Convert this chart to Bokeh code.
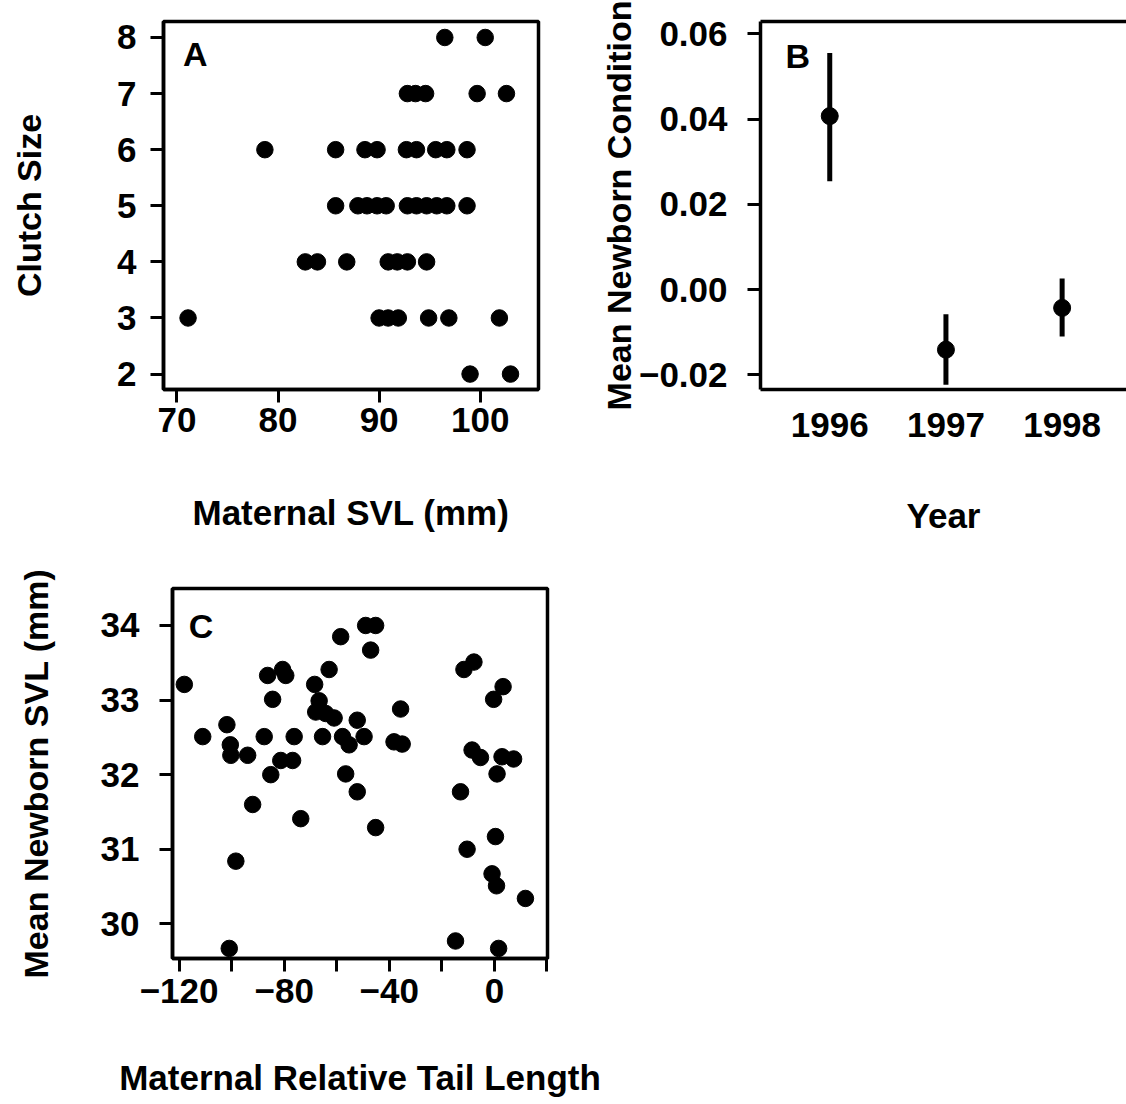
from bokeh.plotting import figure
from bokeh.layouts import column, row
from bokeh.models import Range1d, FixedTicker, LinearAxis, Label, CustomJSTickFormatter
from bokeh.embed import file_html
from bokeh.resources import INLINE

# Panel A: clutch size against maternal snout-vent length
svl_mm = [96.5, 100.5,
          92.8, 93.6, 94.6, 99.7, 102.6,
          78.7, 85.7, 88.6, 89.8, 92.7, 93.7, 95.6, 96.7, 98.7,
          85.7, 87.9, 88.8, 89.8, 90.7, 92.8, 93.7, 94.7, 95.7, 96.7, 98.7,
          82.7, 83.9, 86.8, 90.9, 91.8, 92.8, 94.7,
          71.1, 90.0, 90.9, 91.9, 94.9, 96.9, 101.9,
          99.0, 103.0]
clutch_size = [8, 8,
               7, 7, 7, 7, 7,
               6, 6, 6, 6, 6, 6, 6, 6, 6,
               5, 5, 5, 5, 5, 5, 5, 5, 5, 5, 5,
               4, 4, 4, 4, 4, 4, 4,
               3, 3, 3, 3, 3, 3, 3,
               2, 2]

# Panel B: mean newborn condition by year, with error bars
years = [1996, 1997, 1998]
cond_mean = [0.0407, -0.0141, -0.0043]
cond_low = [0.0254, -0.0223, -0.0110]
cond_high = [0.0555, -0.0058, 0.0026]

# Panel C: mean newborn SVL against maternal relative tail length
tail_rel = [-118.0, -111.0, -101.8, -100.5, -100.3, -93.9, -98.4, -100.9, -92.0,
            -86.3, -84.4, -87.6, -85.1, -80.6, -79.4, -81.3, -76.8, -76.2, -73.7,
            -68.4, -66.7, -68.0, -65.4, -62.9, -64.2, -61.0, -58.5, -57.8, -55.3,
            -56.6, -52.2, -49.6, -52.2, -49.0, -45.2, -47.1, -45.2, -35.7, -38.2,
            -35.1, -11.6, -7.8, -12.9, -10.4, -14.8, -8.5, -5.3, -0.3, 3.3, 1.0,
            2.9, 7.3, 0.4, -0.9, 0.8, 11.8, 1.6]
newborn_svl = [33.21, 32.51, 32.67, 32.40, 32.26, 32.26, 30.84, 29.67, 31.60,
               33.33, 33.01, 32.51, 32.00, 33.41, 33.33, 32.19, 32.19, 32.51, 31.41,
               33.21, 32.99, 32.84, 32.51, 33.41, 32.82, 32.76, 33.85, 32.51, 32.40,
               32.01, 32.73, 32.51, 31.77, 34.00, 34.00, 33.67, 31.29, 32.88, 32.44,
               32.41, 33.41, 33.51, 31.77, 31.00, 29.77, 32.33, 32.23, 33.01, 33.18, 32.01,
               32.24, 32.21, 31.17, 30.67, 30.51, 30.34, 29.67]

FONT = "Liberation Sans"
TICK_SIZE = "35px"
XTITLE_SIZE = "35px"
YTITLE_SIZE = "34px"
LINE_W = 3.5


def style_axis(ax, label_standoff, title_standoff, title_size):
    ax.axis_line_width = LINE_W
    ax.axis_line_color = "black"
    ax.major_tick_line_width = 3
    ax.major_tick_out = 13
    ax.major_tick_in = 0
    ax.minor_tick_line_color = None
    ax.major_label_text_font = FONT
    ax.major_label_text_font_style = "bold"
    ax.major_label_text_font_size = TICK_SIZE
    ax.major_label_text_color = "black"
    ax.major_label_standoff = label_standoff
    ax.axis_label_text_font = FONT
    ax.axis_label_text_font_style = "bold"
    ax.axis_label_text_font_size = title_size
    ax.axis_label_text_color = "black"
    ax.axis_label_standoff = title_standoff


def base_figure(**kw):
    p = figure(output_backend="svg", toolbar_location=None, **kw)
    p.xgrid.visible = False
    p.ygrid.visible = False
    p.outline_line_color = "black"
    p.outline_line_width = LINE_W
    p.background_fill_color = "white"
    p.border_fill_color = "white"
    return p


def panel_letter(p, x, y, text):
    p.add_layout(Label(x=x, y=y, y_offset=14, text=text, text_font=FONT,
                       text_font_style="bold", text_font_size="34px",
                       text_align="left", text_baseline="alphabetic",
                       text_color="black"))


minus_fmt2 = CustomJSTickFormatter(code="""
    const s = Math.abs(tick).toFixed(2);
    return tick < -1e-9 ? '\\u2212' + s : s;
""")

# ---- Panel A ----
pA = base_figure(width=585, height=560,
                 x_range=Range1d(68.67, 105.77), y_range=Range1d(1.725, 8.285),
                 min_border_left=163, min_border_right=47,
                 min_border_top=21, min_border_bottom=171)
pA.scatter(svl_mm, clutch_size, size=16.5, color="black")
pA.xaxis.ticker = FixedTicker(ticks=[70, 80, 90, 100])
pA.yaxis.ticker = FixedTicker(ticks=[2, 3, 4, 5, 6, 7, 8])
pA.xaxis.axis_label = "Maternal SVL (mm)"
pA.yaxis.axis_label = "Clutch Size"
style_axis(pA.xaxis[0], 5, 58, XTITLE_SIZE)
style_axis(pA.yaxis[0], 14, 66, YTITLE_SIZE)
panel_letter(pA, 70.6, 7.46, "A")

# ---- Panel B ----
pB = base_figure(width=541, height=560,
                 x_range=Range1d(1995.404, 1998.554), y_range=Range1d(-0.02344, 0.0629),
                 min_border_left=175, min_border_right=0,
                 min_border_top=21, min_border_bottom=168)
pB.outline_line_color = None
pB.segment(x0=years, y0=cond_low, x1=years, y1=cond_high, line_width=5, color="black")
pB.scatter(years, cond_mean, size=17, color="black")
pB.xaxis.ticker = FixedTicker(ticks=years)
pB.yaxis.ticker = FixedTicker(ticks=[-0.02, 0.0, 0.02, 0.04, 0.06])
pB.yaxis.formatter = minus_fmt2
pB.xaxis.axis_label = "Year"
pB.yaxis.axis_label = "Mean Newborn Condition"
style_axis(pB.xaxis[0], 23, 56, XTITLE_SIZE)
pB.xaxis.major_tick_out = 0
pB.xaxis.major_tick_line_color = None
style_axis(pB.yaxis[0], 20, -2, YTITLE_SIZE)
top_axis = LinearAxis(ticker=FixedTicker(ticks=[]), axis_line_width=LINE_W,
                      major_label_text_font_size="0px", major_tick_line_color=None,
                      minor_tick_line_color=None)
pB.add_layout(top_axis, "above")
panel_letter(pB, 1995.619, 0.05162, "B")

# ---- Panel C ----
c_ticks = [-120, -100, -80, -60, -40, -20, 0, 20]
c_labels = {-120: "\u2212120", -100: "", -80: "\u221280", -60: "", -40: "\u221240",
            -20: "", 0: "0", 20: ""}
pC = base_figure(width=600, height=544,
                 x_range=Range1d(-122.5, 20.2), y_range=Range1d(29.535, 34.496),
                 min_border_left=172, min_border_right=53,
                 min_border_top=28, min_border_bottom=146)
pC.scatter(tail_rel, newborn_svl, size=16.5, color="black")
pC.xaxis.ticker = FixedTicker(ticks=c_ticks)
pC.xaxis.major_label_overrides = c_labels
pC.yaxis.ticker = FixedTicker(ticks=[30, 31, 32, 33, 34])
pC.xaxis.axis_label = "Maternal Relative Tail Length"
pC.yaxis.axis_label = "Mean Newborn SVL (mm)"
style_axis(pC.xaxis[0], 7, 52, XTITLE_SIZE)
style_axis(pC.yaxis[0], 20, 43, YTITLE_SIZE)
panel_letter(pC, -116.3, 33.80, "C")

layout = column(row(pA, pB, spacing=0), pC, spacing=0)

with open("out.html", "w") as f:
    f.write(file_html(layout, INLINE, title="Clutch size and newborn traits"))
